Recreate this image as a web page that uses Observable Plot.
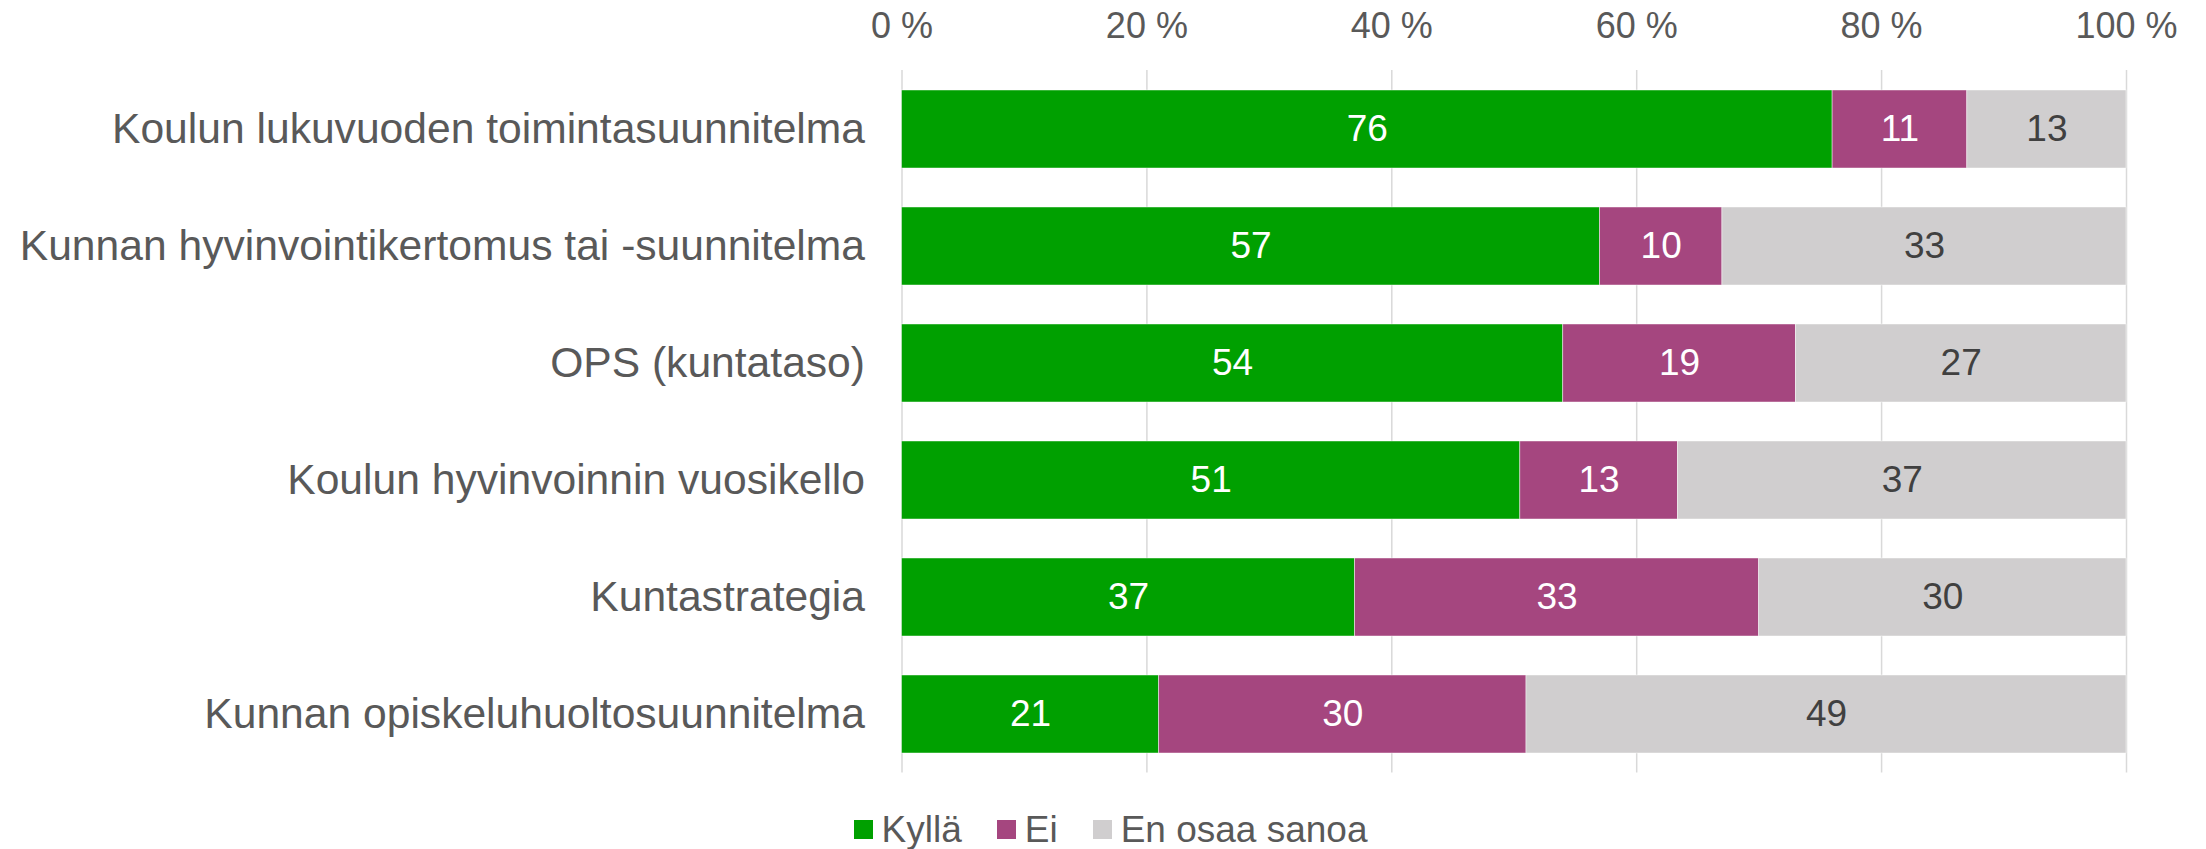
<!DOCTYPE html>
<html>
<head>
<meta charset="utf-8">
<script src="https://cdn.jsdelivr.net/npm/d3@7"></script>
<script src="https://cdn.jsdelivr.net/npm/@observablehq/plot@0.6"></script>
<style>
  html, body { margin: 0; padding: 0; background: #fff; }
  body { width: 2206px; font-family: "Liberation Sans", Arial, sans-serif; }
  #legend { display: flex; justify-content: center; align-items: center; height: 39px; padding-top: 20px; padding-left: 15px; color: #595959; font-size: 37px; }
  .item { display: flex; align-items: center; margin-right: 35px; }
  .item:last-child { margin-right: 0; }
  .sw { width: 19px; height: 19px; margin-right: 9px; }
</style>
</head>
<body>
<div id="chart"></div>
<div id="legend"></div>
<script>
const categories = [
  "Koulun lukuvuoden toimintasuunnitelma",
  "Kunnan hyvinvointikertomus tai -suunnitelma",
  "OPS (kuntataso)",
  "Koulun hyvinvoinnin vuosikello",
  "Kuntastrategia",
  "Kunnan opiskeluhuoltosuunnitelma"
];
const kylla = [76, 57, 54, 51, 37, 21];
const ei = [11, 10, 19, 13, 33, 30];
const eos = [13, 33, 27, 37, 30, 49];
const seriesNames = ["Kyllä", "Ei", "En osaa sanoa"];
const seriesColors = ["#00A000", "#A5467F", "#D0CECF"];
const xTicks = [0, 20, 40, 60, 80, 100];

const seriesValues = [kylla, ei, eos];
const data = [];
categories.forEach((cat, i) => {
  seriesNames.forEach((s, j) => data.push({cat, series: s, value: seriesValues[j][i]}));
});

const font = "'Liberation Sans', Arial, sans-serif";
const tickVals = xTicks.map(t => t / 100);

const chart = Plot.plot({
  width: 2206,
  height: 790,
  marginLeft: 901.5,
  marginRight: 80,
  marginTop: 70,
  marginBottom: 17.5,
  style: {fontFamily: font, color: "#595959", background: "white", overflow: "visible"},
  x: {domain: [0, 1], axis: null},
  y: {domain: categories, paddingInner: 0.336, paddingOuter: 0.168, axis: null},
  color: {domain: seriesNames, range: seriesColors},
  marks: [
    Plot.gridX(tickVals, {stroke: "#D9D9D9", strokeOpacity: 1, strokeWidth: 1.5}),
    Plot.barX(data, Plot.stackX({x: "value", y: "cat", fill: "series", offset: "normalize", stroke: "white", strokeWidth: 0.75, strokeOpacity: 0.6})),
    Plot.text(data, Plot.stackX({x: "value", y: "cat", z: "series", offset: "normalize",
      text: d => d.series !== "En osaa sanoa" ? String(d.value) : null, fill: "white", fontSize: 37})),
    Plot.text(data, Plot.stackX({x: "value", y: "cat", z: "series", offset: "normalize",
      text: d => d.series === "En osaa sanoa" ? String(d.value) : null, fill: "#404040", fontSize: 37})),
    Plot.axisX({anchor: "top", ticks: tickVals, tickFormat: d => Math.round(d * 100) + " %", tickSize: 0, tickPadding: 33, fontSize: 36, label: null}),
    Plot.axisY({anchor: "left", tickSize: 0, tickPadding: 37, fontSize: 42.6, label: null})
  ]
});
document.getElementById("chart").appendChild(chart);

const legend = document.getElementById("legend");
seriesNames.forEach((s, i) => {
  const it = document.createElement("div");
  it.className = "item";
  const sw = document.createElement("div");
  sw.className = "sw";
  sw.style.background = seriesColors[i];
  const t = document.createElement("span");
  t.textContent = s;
  it.appendChild(sw);
  it.appendChild(t);
  legend.appendChild(it);
});
</script>
</body>
</html>
